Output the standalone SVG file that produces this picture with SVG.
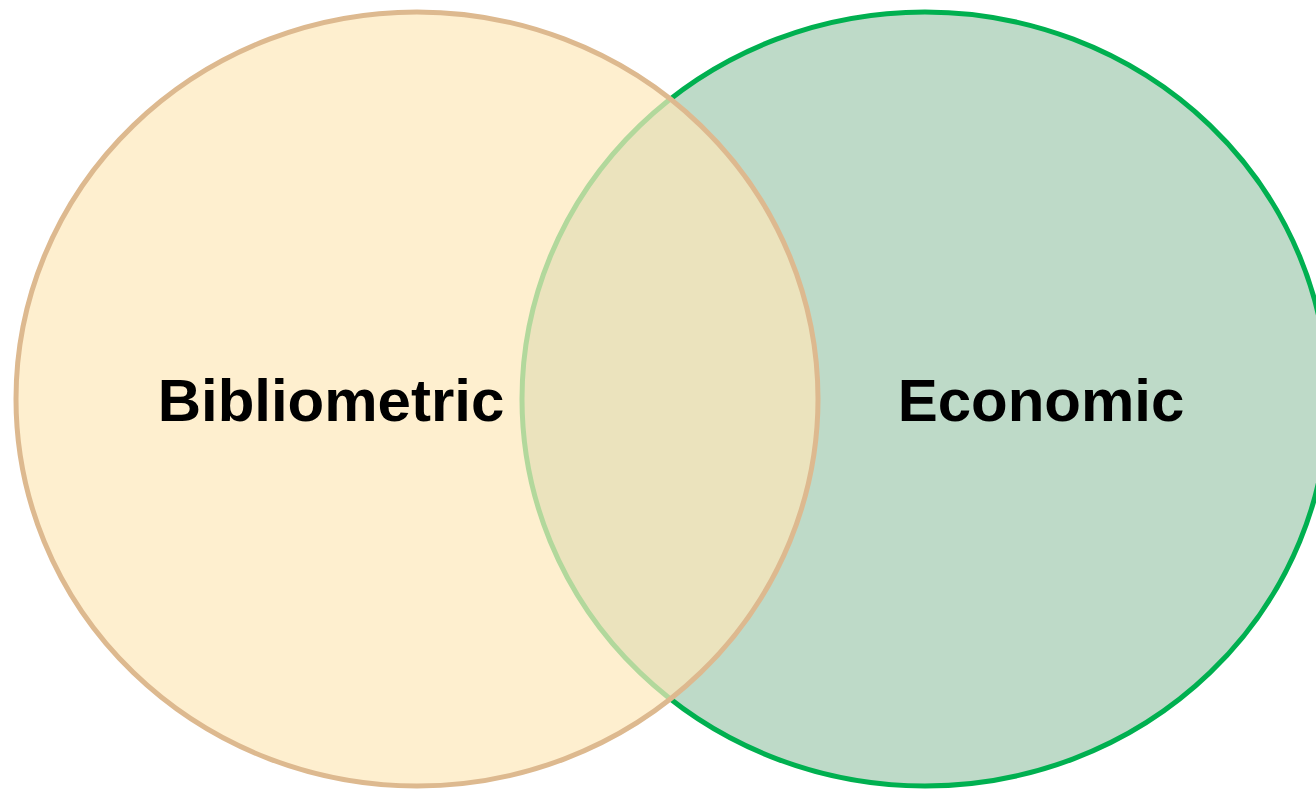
<svg xmlns="http://www.w3.org/2000/svg" width="1316" height="789" viewBox="0 0 1316 789">
<style>
.lbl{font-family:"Liberation Sans",Arial,sans-serif;font-weight:bold;font-size:60px;fill:#000;text-anchor:middle}
</style>
<defs>
<clipPath id="clipLeft"><ellipse cx="417" cy="399" rx="401" ry="387"/></clipPath>
</defs>
<rect width="1316" height="789" fill="#ffffff"/>
<g id="economic">
<ellipse cx="925" cy="399" rx="403" ry="387" fill="#BEDAC8" stroke="#00B050" stroke-width="5"/>
</g>
<g id="bibliometric">
<ellipse cx="417" cy="399" rx="401" ry="387" fill="#FEEFCF"/>
</g>
<g id="overlap" clip-path="url(#clipLeft)">
<ellipse cx="925" cy="399" rx="403" ry="387" fill="#EBE3BD" stroke="#B2D89C" stroke-width="5"/>
</g>
<ellipse cx="417" cy="399" rx="401" ry="387" fill="none" stroke="#DDB98F" stroke-width="5"/>
<text class="lbl" x="331" y="421">Bibliometric</text>
<text class="lbl" x="1041" y="421">Economic</text>
</svg>
